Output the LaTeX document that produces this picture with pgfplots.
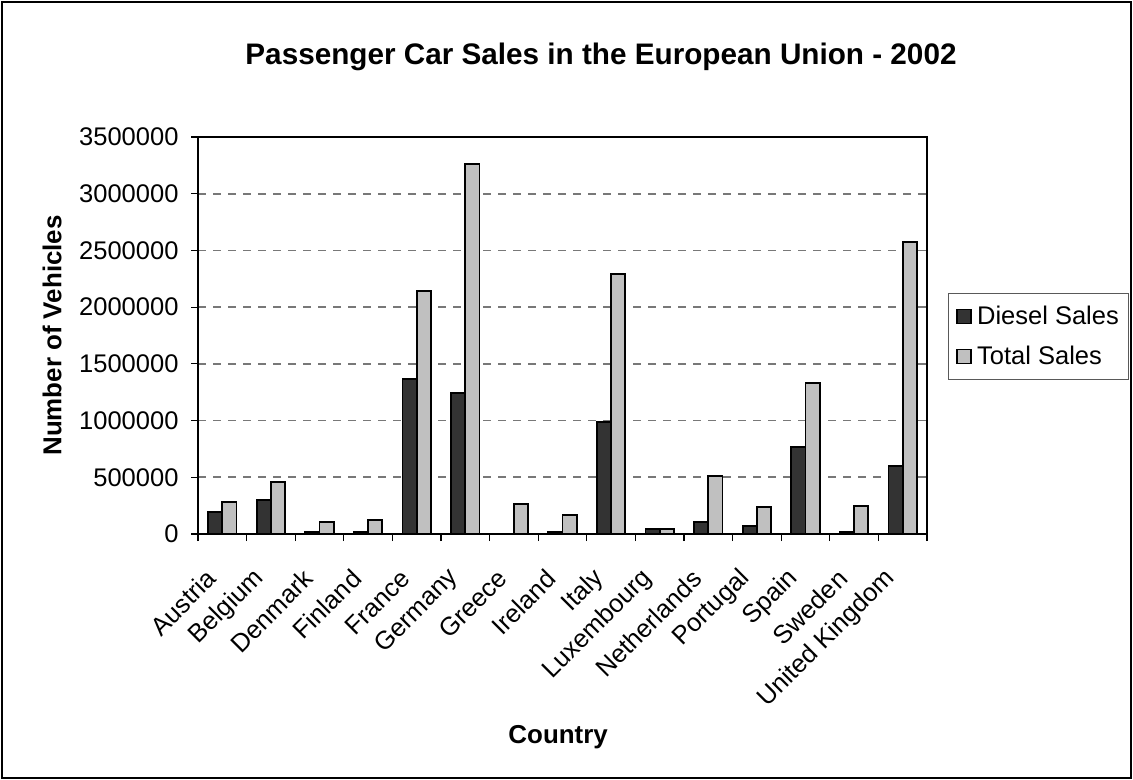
\documentclass[border=0pt]{standalone}
\usepackage{fontspec}
\setmainfont{Liberation Sans}
\usepackage{pgfplots}
\pgfplotsset{compat=1.18}
\definecolor{diesel}{HTML}{333333}
\definecolor{total}{HTML}{C0C0C0}
\definecolor{gridgray}{HTML}{787878}
\begin{document}
\begin{tikzpicture}
\useasboundingbox (0,0) rectangle (1133bp,780bp);
\begin{axis}[
  at={(198bp,246bp)}, anchor=south west,
  scale only axis, width=729bp, height=397bp,
  ybar=0pt, bar width=14.2bp,
  xmin=-0.5, xmax=14.5,
  ymin=0, ymax=3500000,
  xtick={0,...,14},
  xticklabels={Austria,Belgium,Denmark,Finland,France,Germany,Greece,Ireland,Italy,Luxembourg,Netherlands,Portugal,Spain,Sweden,United Kingdom},
  xtick pos=lower, ytick pos=left,
  major x tick style={draw=none},
  minor xtick={-0.5,0.5,...,14.5},
  minor x tick style={black, line width=1.2bp},
  minor tick length=7bp,
  major tick length=7bp,
  tick align=outside,
  ytick={0,500000,...,3500000},
  y tick style={black, line width=1.2bp},
  scaled y ticks=false,
  /pgf/number format/fixed,
  /pgf/number format/1000 sep={},
  /pgf/number format/assume math mode=true,
  ymajorgrids=true,
  grid style={gridgray, line width=1.6bp, dash pattern=on 8bp off 7bp},
  axis line style={black, line width=2bp},
  tick label style={font=\fontsize{25.6}{29}\selectfont},
  yticklabel style={xshift=-9bp},
  xticklabel style={xshift=-9bp, yshift=-31bp, rotate=45, anchor=east},
  xlabel={\textbf{Country}},
  ylabel={\textbf{Number of Vehicles}},
  xlabel style={at={(axis description cs:0.494,-0.511)}, anchor=center, font=\fontsize{26}{29}\selectfont},
  ylabel style={at={(axis description cs:-0.2,0.5)}, anchor=center, font=\fontsize{26}{29}\selectfont},
  legend style={at={(axis description cs:1.0288,0.607)}, anchor=north west,
    draw=black!65, line width=1bp, inner xsep=8bp, inner ysep=11bp,
    font=\fontsize{25.6}{29}\selectfont, row sep=16bp, cells={anchor=west}},
  legend image code/.code={\draw[#1, line width=1.5bp] (0bp,-7bp) rectangle (14bp,7bp); \path (17bp,0bp);},
]
\addplot[fill=diesel, draw=black, line width=1.8bp] coordinates {
  (0,197000) (1,302000) (2,20000) (3,20000) (4,1364000) (5,1241000) (6,0)
  (7,20000) (8,990000) (9,41000) (10,108000) (11,73000) (12,765000) (13,20000) (14,602000)
};
\addplot[fill=total, draw=black, line width=1.8bp] coordinates {
  (0,285000) (1,461000) (2,108000) (3,126000) (4,2144000) (5,3259000) (6,267000)
  (7,165000) (8,2290000) (9,41000) (10,514000) (11,235000) (12,1329000) (13,250000) (14,2572000)
};
\legend{Diesel Sales,Total Sales}
\end{axis}
\node[font=\bfseries\fontsize{29.8}{33}\selectfont] at (601bp,723bp) {Passenger Car Sales in the European Union - 2002};
\draw[black, line width=2.5bp] (2bp,2bp) rectangle (1131bp,778bp);
\end{tikzpicture}
\end{document}
